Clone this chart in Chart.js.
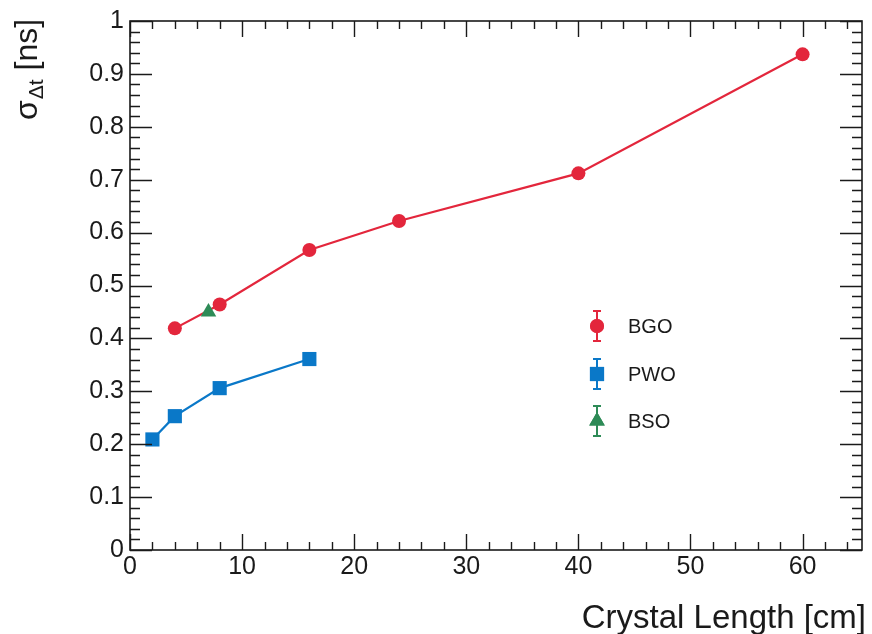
<!DOCTYPE html>
<html>
<head>
<meta charset="utf-8">
<script src="https://cdn.jsdelivr.net/npm/chart.js@4/dist/chart.umd.min.js"></script>
<style>
  html, body { margin: 0; padding: 0; background: #fff; }
  #wrap { width: 872px; height: 634px; }
</style>
</head>
<body>
<div id="wrap"><canvas id="grafico"></canvas></div>
<script>
// datos
const seriesNames = ['BGO', 'PWO', 'BSO'];
const bgoLength = [4, 8, 16, 24, 40, 60];
const bgoSigma = [0.419, 0.464, 0.567, 0.622, 0.712, 0.937];
const pwoLength = [2, 4, 8, 16];
const pwoSigma = [0.209, 0.253, 0.306, 0.361];
const bsoLength = [7];
const bsoSigma = [0.450];
const xTicks = [0, 10, 20, 30, 40, 50, 60];
const yTicks = [0, 0.1, 0.2, 0.3, 0.4, 0.5, 0.6, 0.7, 0.8, 0.9, 1];

const colores = { BGO: '#e3263c', PWO: '#0a78c8', BSO: '#2e8b57' };
const estilos = { BGO: 'circle', PWO: 'rect', BSO: 'triangle' };
const radios = { BGO: 7, PWO: 10, BSO: 9 };
const FONT = '"Liberation Sans", Arial, sans-serif';
const INK = '#1a1a1a';

function puntos(xs, ys) {
  return xs.map((x, i) => ({ x: x, y: ys[i] }));
}

// marco estilo ROOT con ticks hacia adentro, titulos y leyenda
const marcoPlugin = {
  id: 'marco',
  afterDatasetsDraw(chart) {
    const { ctx, chartArea: a, scales } = chart;
    const sx = scales.x, sy = scales.y;
    ctx.save();
    ctx.strokeStyle = INK;
    ctx.lineWidth = 1.6;
    ctx.strokeRect(a.left, a.top, a.right - a.left, a.bottom - a.top);
    ctx.lineWidth = 1.4;
    ctx.beginPath();
    // eje x: menores cada 2
    for (let v = 0; v <= sx.max; v += 2) {
      const px = Math.round(sx.getPixelForValue(v)) + 0.5;
      const len = (v % 10 === 0) ? 16 : 8;
      ctx.moveTo(px, a.bottom); ctx.lineTo(px, a.bottom - len);
      ctx.moveTo(px, a.top); ctx.lineTo(px, a.top + len);
    }
    // eje y: menores cada 0.02
    for (let k = 0; k <= 50; k++) {
      const py = Math.round(sy.getPixelForValue(k * 0.02)) + 0.5;
      const len = (k % 5 === 0) ? 22 : 10;
      ctx.moveTo(a.left, py); ctx.lineTo(a.left + len, py);
      ctx.moveTo(a.right, py); ctx.lineTo(a.right - len, py);
    }
    ctx.stroke();

    // titulo eje x
    ctx.fillStyle = INK;
    ctx.font = '33px ' + FONT;
    ctx.textAlign = 'right';
    ctx.textBaseline = 'alphabetic';
    ctx.fillText('Crystal Length [cm]', 866, 628);

    // titulo eje y con subindice
    ctx.save();
    ctx.translate(37, 120);
    ctx.rotate(-Math.PI / 2);
    ctx.textAlign = 'left';
    ctx.font = '32px ' + FONT;
    ctx.fillText('\u03c3', 0, 0);
    let w = ctx.measureText('\u03c3').width;
    ctx.font = '21px ' + FONT;
    ctx.fillText('\u0394t', w + 1, 6);
    w += ctx.measureText('\u0394t').width + 1;
    ctx.font = '32px ' + FONT;
    ctx.fillText(' [ns]', w, 0);
    ctx.restore();

    // leyenda
    const lx = 597, ly = [326, 374, 421];
    seriesNames.forEach((n, i) => {
      const y = ly[i];
      ctx.strokeStyle = colores[n];
      ctx.fillStyle = colores[n];
      ctx.lineWidth = 2;
      ctx.beginPath();
      ctx.moveTo(lx, y - 15); ctx.lineTo(lx, y + 15);
      ctx.moveTo(lx - 4, y - 15); ctx.lineTo(lx + 4, y - 15);
      ctx.moveTo(lx - 4, y + 15); ctx.lineTo(lx + 4, y + 15);
      ctx.stroke();
      Chart.helpers.drawPoint(ctx, { pointStyle: estilos[n], radius: radios[n], borderWidth: 0 }, lx, y);
      ctx.fill();
      ctx.fillStyle = INK;
      ctx.font = '20px ' + FONT;
      ctx.textAlign = 'left';
      ctx.textBaseline = 'middle';
      ctx.fillText(n, 628, y + 1);
    });
    ctx.restore();
  }
};

const ctx = document.getElementById('grafico').getContext('2d');
const grafico = new Chart(ctx, {
  type: 'scatter',
  data: {
    datasets: [
      { label: 'BSO', data: puntos(bsoLength, bsoSigma), order: 0 },
      { label: 'PWO', data: puntos(pwoLength, pwoSigma), order: 2 },
      { label: 'BGO', data: puntos(bgoLength, bgoSigma), order: 1 }
    ].map(d => Object.assign(d, {
      showLine: true,
      borderColor: colores[d.label],
      backgroundColor: colores[d.label],
      pointStyle: estilos[d.label],
      pointRadius: radios[d.label],
      pointHoverRadius: radios[d.label],
      pointBorderWidth: 0,
      borderWidth: 2.2
    }))
  },
  options: {
    responsive: true,
    maintainAspectRatio: false,
    animation: false,
    events: [],
    layout: { padding: { top: 20, right: 8, left: 0, bottom: 0 } },
    plugins: { legend: { display: false }, tooltip: { enabled: false } },
    scales: {
      x: {
        type: 'linear',
        min: 0,
        max: 65.3,
        afterFit(s) { s.height = 84; },
        afterBuildTicks(s) { s.ticks = xTicks.map(v => ({ value: v })); },
        grid: { display: false, drawTicks: false },
        border: { display: false },
        ticks: {
          color: INK,
          padding: 2,
          maxRotation: 0,
          font: { family: FONT, size: 25 },
          callback: v => String(v)
        }
      },
      y: {
        type: 'linear',
        min: 0,
        max: 1,
        afterFit(s) { s.width = 130; },
        afterBuildTicks(s) { s.ticks = yTicks.map(v => ({ value: v })); },
        grid: { display: false, drawTicks: false },
        border: { display: false },
        ticks: {
          color: INK,
          padding: 6,
          font: { family: FONT, size: 25 },
          callback: v => String(+Number(v).toFixed(1))
        }
      }
    }
  },
  plugins: [marcoPlugin]
});
</script>
</body>
</html>
